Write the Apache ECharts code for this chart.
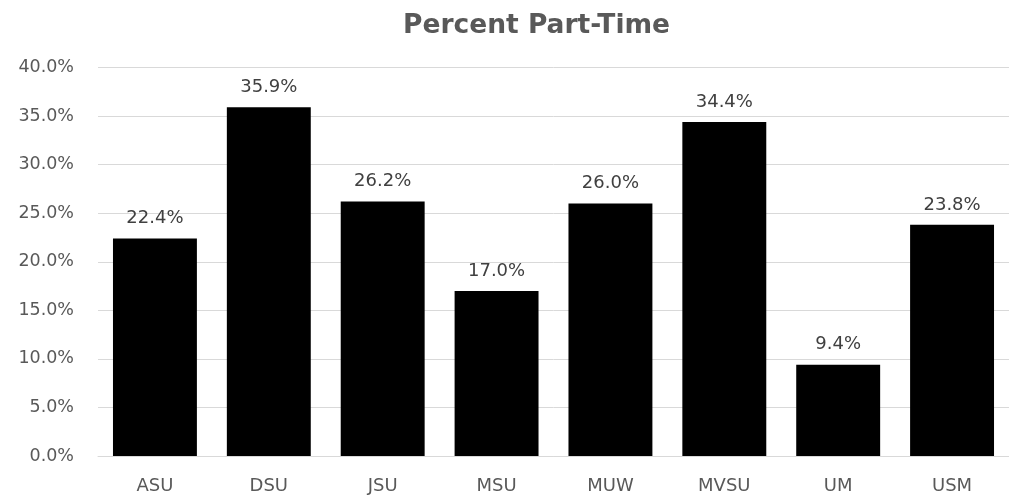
<!DOCTYPE html>
<html><head><meta charset="utf-8">
<script src="https://cdn.jsdelivr.net/npm/echarts@6/dist/echarts.min.js"></script>
<style>html,body{margin:0;padding:0;background:#fff}#c{width:1009px;height:495px}</style>
</head><body><div id="c"></div>
<script>
const categories = ['ASU','DSU','JSU','MSU','MUW','MVSU','UM','USM'];
const values = [22.4, 35.9, 26.2, 17.0, 26.0, 34.4, 9.4, 23.8];
const titleText = 'Percent Part-Time';
const chart = echarts.init(document.getElementById('c'));
chart.setOption({
  animation: false,
  backgroundColor: '#fff',
  title: { text: titleText, left: 398, top: 8,
    textStyle: { fontFamily: 'DejaVu Sans', fontWeight: 'bold', fontSize: 26.5, color: '#595959' } },
  grid: { left: 98, right: -1, top: 67.5, bottom: 39, containLabel: false },
  xAxis: { type: 'category', data: categories,
    axisLine: { lineStyle: { color: '#d9d9d9', width: 1 } },
    axisTick: { show: false },
    axisLabel: { color: '#595959', fontSize: 18, fontFamily: 'DejaVu Sans', margin: 21 } },
  yAxis: { type: 'value', min: 0, max: 40, interval: 5,
    axisLine: { show: false }, axisTick: { show: false },
    splitLine: { lineStyle: { color: '#d9d9d9', width: 1 } },
    axisLabel: { color: '#595959', fontSize: 17.5, fontFamily: 'DejaVu Sans', margin: 24,
      formatter: v => v.toFixed(1) + '%' } },
  series: [{ type: 'bar', data: values, barWidth: '73.7%',
    itemStyle: { color: '#000' },
    label: { show: true, position: 'top', distance: 11, color: '#404040', fontSize: 18, fontFamily: 'DejaVu Sans',
      formatter: p => p.value.toFixed(1) + '%' } }]
});
</script></body></html>
